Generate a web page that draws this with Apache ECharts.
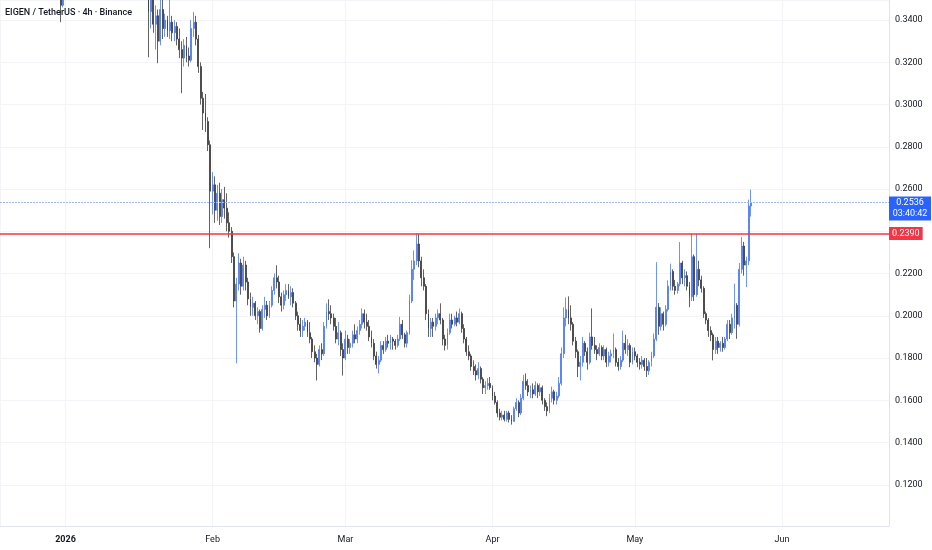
<!DOCTYPE html>
<html><head><meta charset="utf-8">
<script src="https://cdn.jsdelivr.net/npm/echarts/dist/echarts.min.js"></script>
<style>html,body{margin:0;padding:0;background:#fff}#c{width:932px;height:550px}</style>
</head><body><div id="c"></div>
<script>
const chartTitle = 'EIGEN / TetherUS · 4h · Binance';
const monthNames = ['Jan','Feb','Mar','Apr','May','Jun','Jul','Aug','Sep','Oct','Nov','Dec'];
const firstCandleTime = Date.UTC(2025, 11, 18, 0, 0, 0);
const candleStepMs = 12 * 3600 * 1000;
const supportLevel = 0.2390;
const lastPrice = 0.2536;
const countdown = '03:40:42';

// [open, high, low, close]
const candlesDec = [
[0.392,0.398,0.384,0.388],[0.388,0.395,0.381,0.391],[0.391,0.402,0.389,0.399],[0.399,0.404,0.390,0.394],
[0.394,0.397,0.383,0.386],[0.386,0.392,0.380,0.389],[0.389,0.393,0.378,0.381],[0.381,0.387,0.374,0.384],
[0.384,0.396,0.382,0.393],[0.393,0.399,0.386,0.388],[0.388,0.390,0.373,0.376],[0.376,0.381,0.368,0.372],
[0.372,0.379,0.366,0.377],[0.377,0.385,0.374,0.382],[0.382,0.386,0.376,0.379],[0.379,0.384,0.373,0.381],
[0.381,0.389,0.377,0.386],[0.386,0.388,0.372,0.375],[0.375,0.380,0.369,0.378],[0.378,0.383,0.372,0.374],
[0.374,0.377,0.364,0.368],[0.368,0.375,0.362,0.371],[0.371,0.378,0.366,0.373],[0.373,0.376,0.361,0.365],
[0.365,0.372,0.358,0.369],[0.369,0.371,0.355,0.358],[0.358,0.360,0.339,0.347],[0.347,0.372,0.346,0.368]
];
const candlesJan = [
[0.368,0.381,0.365,0.378],[0.378,0.386,0.372,0.383],[0.383,0.397,0.380,0.394],[0.394,0.405,0.390,0.401],
[0.401,0.409,0.395,0.398],[0.398,0.412,0.396,0.408],[0.408,0.418,0.402,0.405],[0.405,0.411,0.398,0.407],
[0.407,0.425,0.405,0.421],[0.421,0.430,0.414,0.418],[0.418,0.427,0.410,0.413],[0.413,0.419,0.404,0.416],
[0.416,0.420,0.401,0.404],[0.404,0.409,0.395,0.399],[0.399,0.406,0.392,0.402],[0.402,0.405,0.389,0.393],
[0.393,0.401,0.388,0.398],[0.398,0.402,0.391,0.395],[0.395,0.399,0.387,0.390],[0.390,0.397,0.386,0.394],
[0.394,0.400,0.389,0.392],[0.392,0.395,0.381,0.385],[0.385,0.392,0.380,0.389],[0.389,0.398,0.386,0.395],
[0.395,0.403,0.390,0.399],[0.399,0.408,0.393,0.396],[0.396,0.399,0.385,0.388],[0.388,0.391,0.377,0.381],
[0.381,0.386,0.374,0.383],[0.383,0.385,0.371,0.375],[0.375,0.381,0.369,0.378],[0.378,0.382,0.368,0.372],
[0.372,0.377,0.363,0.371],[0.371,0.376,0.360,0.366],[0.366,0.372,0.352,0.358],[0.358,0.362,0.3224,0.344],
[0.344,0.356,0.336,0.350],[0.350,0.358,0.334,0.338],[0.338,0.347,0.326,0.342],[0.342,0.345,0.3196,0.330],
[0.330,0.352,0.328,0.345],[0.345,0.354,0.331,0.336],[0.336,0.343,0.332,0.340],[0.340,0.342,0.332,0.335],
[0.335,0.350,0.331,0.339],[0.339,0.342,0.330,0.334],[0.334,0.340,0.330,0.337],[0.337,0.339,0.328,0.331],
[0.331,0.336,0.322,0.326],[0.326,0.330,0.3054,0.322],[0.322,0.331,0.318,0.328],[0.328,0.332,0.320,0.323],
[0.323,0.327,0.318,0.321],[0.321,0.340,0.320,0.336],[0.336,0.3438,0.332,0.339],[0.339,0.342,0.328,0.331],
[0.331,0.333,0.315,0.318],[0.318,0.320,0.300,0.303],[0.303,0.306,0.288,0.296],[0.296,0.305,0.287,0.292],
[0.292,0.294,0.278,0.281],[0.281,0.283,0.232,0.259]
];
const candlesFeb = [
[0.259,0.268,0.248,0.262],[0.262,0.266,0.244,0.250],[0.250,0.262,0.245,0.258],[0.258,0.263,0.243,0.247],
[0.247,0.260,0.244,0.255],[0.255,0.261,0.246,0.251],[0.251,0.258,0.240,0.244],[0.244,0.249,0.237,0.240],
[0.240,0.242,0.225,0.228],[0.228,0.230,0.204,0.207],[0.207,0.218,0.1775,0.215],[0.215,0.2296,0.212,0.225],
[0.225,0.227,0.210,0.214],[0.214,0.228,0.212,0.224],[0.224,0.226,0.212,0.216],[0.216,0.218,0.205,0.208],
[0.208,0.211,0.200,0.204],[0.204,0.209,0.200,0.206],[0.206,0.207,0.198,0.200],[0.200,0.204,0.196,0.202],
[0.202,0.203,0.192,0.194],[0.194,0.205,0.193,0.203],[0.203,0.209,0.199,0.205],[0.205,0.207,0.198,0.200],
[0.200,0.207,0.199,0.205],[0.205,0.214,0.204,0.212],[0.212,0.220,0.210,0.218],[0.218,0.2239,0.213,0.216],
[0.216,0.219,0.206,0.209],[0.209,0.211,0.202,0.205],[0.205,0.212,0.203,0.210],[0.210,0.215,0.207,0.212],
[0.212,0.215,0.208,0.209],[0.209,0.214,0.205,0.211],[0.211,0.213,0.204,0.206],[0.206,0.207,0.198,0.200],
[0.200,0.202,0.193,0.196],[0.196,0.199,0.190,0.193],[0.193,0.198,0.190,0.195],[0.195,0.199,0.193,0.197],
[0.197,0.198,0.190,0.192],[0.192,0.197,0.187,0.189],[0.189,0.190,0.180,0.183],[0.183,0.186,0.178,0.180],
[0.180,0.182,0.1694,0.177],[0.177,0.186,0.176,0.184],[0.184,0.187,0.179,0.182],[0.182,0.197,0.181,0.195],
[0.195,0.2059,0.194,0.202],[0.202,0.2078,0.198,0.201],[0.201,0.205,0.196,0.199],[0.199,0.201,0.193,0.195],
[0.195,0.199,0.187,0.189],[0.189,0.197,0.186,0.192],[0.192,0.193,0.181,0.184],[0.184,0.187,0.1717,0.180]
];
const candlesMar = [
[0.180,0.193,0.179,0.189],[0.189,0.191,0.182,0.185],[0.185,0.189,0.182,0.187],[0.187,0.193,0.185,0.191],
[0.191,0.196,0.187,0.189],[0.189,0.195,0.187,0.193],[0.193,0.198,0.191,0.196],[0.196,0.2035,0.194,0.201],
[0.201,0.203,0.194,0.197],[0.197,0.201,0.193,0.195],[0.195,0.198,0.188,0.190],[0.190,0.193,0.185,0.187],
[0.187,0.189,0.179,0.181],[0.181,0.183,0.175,0.177],[0.177,0.181,0.1727,0.179],[0.179,0.188,0.178,0.186],
[0.186,0.188,0.182,0.184],[0.184,0.190,0.183,0.188],[0.188,0.191,0.185,0.187],[0.187,0.191,0.184,0.189],
[0.189,0.190,0.184,0.188],[0.188,0.189,0.184,0.186],[0.186,0.191,0.185,0.189],[0.189,0.1995,0.188,0.196],
[0.196,0.198,0.189,0.191],[0.191,0.192,0.185,0.187],[0.187,0.193,0.185,0.192],[0.192,0.210,0.191,0.207],
[0.207,0.2263,0.206,0.222],[0.222,0.231,0.217,0.226],[0.226,0.239,0.224,0.234],[0.234,0.2388,0.223,0.226],
[0.226,0.228,0.214,0.218],[0.218,0.222,0.212,0.214],[0.214,0.215,0.198,0.201],[0.201,0.203,0.190,0.194],
[0.194,0.199,0.190,0.197],[0.197,0.199,0.190,0.195],[0.195,0.201,0.193,0.199],[0.199,0.203,0.196,0.201],
[0.201,0.2059,0.196,0.198],[0.198,0.199,0.186,0.189],[0.189,0.191,0.1836,0.186],[0.186,0.194,0.184,0.192],
[0.192,0.201,0.191,0.198],[0.198,0.201,0.194,0.196],[0.196,0.200,0.195,0.199],[0.199,0.202,0.195,0.197],
[0.197,0.2035,0.196,0.201],[0.201,0.202,0.192,0.194],[0.194,0.196,0.187,0.189],[0.189,0.190,0.181,0.183],
[0.183,0.186,0.179,0.181],[0.181,0.182,0.174,0.176],[0.176,0.179,0.172,0.174],[0.174,0.177,0.1694,0.172],
[0.172,0.178,0.170,0.175],[0.175,0.176,0.168,0.170],[0.170,0.171,0.163,0.166],[0.166,0.169,0.163,0.167],
[0.167,0.1705,0.165,0.168]
];
const candlesApr = [
[0.168,0.171,0.165,0.166],[0.166,0.167,0.160,0.162],[0.162,0.164,0.158,0.159],[0.159,0.160,0.152,0.154],
[0.154,0.156,0.1505,0.152],[0.152,0.155,0.1505,0.153],[0.153,0.155,0.150,0.151],[0.151,0.155,0.150,0.154],
[0.154,0.155,0.1495,0.151],[0.151,0.153,0.1485,0.150],[0.150,0.157,0.150,0.156],[0.156,0.161,0.155,0.159],
[0.159,0.160,0.152,0.154],[0.154,0.163,0.153,0.161],[0.161,0.172,0.160,0.169],[0.169,0.1727,0.165,0.167],
[0.167,0.170,0.162,0.164],[0.164,0.167,0.161,0.165],[0.165,0.168,0.161,0.163],[0.163,0.169,0.162,0.167],
[0.167,0.168,0.161,0.164],[0.164,0.168,0.162,0.166],[0.166,0.167,0.158,0.160],[0.160,0.161,0.155,0.157],
[0.157,0.159,0.1525,0.155],[0.155,0.163,0.154,0.161],[0.161,0.1665,0.159,0.164],[0.164,0.165,0.158,0.160],
[0.160,0.164,0.158,0.162],[0.162,0.171,0.161,0.168],[0.168,0.185,0.167,0.182],[0.182,0.204,0.180,0.199],
[0.199,0.2087,0.195,0.203],[0.203,0.2092,0.196,0.199],[0.199,0.205,0.193,0.196],[0.196,0.197,0.186,0.188],
[0.188,0.190,0.180,0.183],[0.183,0.184,0.171,0.176],[0.176,0.181,0.1694,0.178],[0.178,0.190,0.176,0.187],
[0.187,0.188,0.181,0.183],[0.183,0.185,0.1745,0.178],[0.178,0.192,0.177,0.190],[0.190,0.2035,0.184,0.186],
[0.186,0.190,0.182,0.184],[0.184,0.186,0.179,0.182],[0.182,0.187,0.181,0.185],[0.185,0.186,0.179,0.181],
[0.181,0.186,0.179,0.184],[0.184,0.185,0.1757,0.178],[0.178,0.183,0.176,0.181],[0.181,0.184,0.178,0.182],
[0.182,0.1916,0.180,0.184],[0.184,0.185,0.176,0.178],[0.178,0.180,0.174,0.176],[0.176,0.181,0.1745,0.179],
[0.179,0.193,0.178,0.187],[0.187,0.191,0.182,0.184],[0.184,0.189,0.181,0.186],[0.186,0.187,0.1757,0.178]
];
const candlesMay = [
[0.178,0.185,0.177,0.183],[0.183,0.185,0.179,0.181],[0.181,0.182,0.1757,0.178],[0.178,0.180,0.1745,0.177],
[0.177,0.181,0.175,0.179],[0.179,0.180,0.174,0.176],[0.176,0.180,0.171,0.174],[0.174,0.179,0.172,0.178],
[0.178,0.183,0.176,0.181],[0.181,0.1916,0.180,0.189],[0.189,0.2254,0.188,0.204],[0.204,0.206,0.191,0.195],
[0.195,0.204,0.193,0.201],[0.201,0.202,0.193,0.196],[0.196,0.205,0.195,0.203],[0.203,0.2168,0.202,0.214],
[0.214,0.2247,0.212,0.221],[0.221,0.222,0.212,0.214],[0.214,0.217,0.210,0.212],[0.212,0.216,0.2105,0.215],
[0.215,0.2349,0.214,0.225],[0.225,0.226,0.215,0.218],[0.218,0.222,0.214,0.219],[0.219,0.221,0.212,0.214],
[0.214,0.216,0.2041,0.209],[0.209,0.2389,0.207,0.228],[0.228,0.229,0.207,0.210],[0.210,0.2389,0.209,0.222],
[0.222,0.226,0.214,0.217],[0.217,0.219,0.211,0.213],[0.213,0.214,0.199,0.201],[0.201,0.202,0.196,0.198],
[0.198,0.199,0.190,0.193],[0.193,0.195,0.188,0.191],[0.191,0.192,0.1789,0.184],[0.184,0.190,0.182,0.188],
[0.188,0.190,0.182,0.185],[0.185,0.188,0.183,0.187],[0.187,0.190,0.183,0.185],[0.185,0.190,0.184,0.189],
[0.189,0.198,0.188,0.196],[0.196,0.198,0.189,0.192],[0.192,0.201,0.191,0.199],[0.199,0.2152,0.194,0.205],
[0.205,0.206,0.1891,0.196],[0.196,0.225,0.195,0.222],[0.222,0.2373,0.220,0.233],[0.233,0.235,0.219,0.224],
[0.224,0.228,0.2136,0.226],[0.226,0.255,0.224,0.252],[0.252,0.2597,0.247,0.2536]
];

const allCandles = [].concat(candlesDec, candlesJan, candlesFeb, candlesMar, candlesApr, candlesMay);
const seriesData = allCandles.map((c, i) => [firstCandleTime + i * candleStepMs, c[0], c[3], c[2], c[1]]);

const jan1 = Date.UTC(2026, 0, 1);
const dayMs = 86400000;
const xMin = jan1 - 13.8 * dayMs;
const xMax = jan1 + 173.55 * dayMs;

const chart = echarts.init(document.getElementById('c'), null, {renderer: 'canvas'});
chart.setOption({
  animation: false,
  useUTC: true,
  backgroundColor: '#ffffff',
  textStyle: {fontFamily: 'Roboto'},
  title: {
    text: chartTitle, left: 5, top: 8, padding: 0,
    textStyle: {fontSize: 9, fontWeight: 500, color: '#131722', fontFamily: 'Roboto'}
  },
  grid: {left: 0, right: 43, top: 0, bottom: 24, containLabel: false},
  xAxis: {
    type: 'time', min: xMin, max: xMax, splitNumber: 6, minInterval: 27 * dayMs,
    axisLine: {show: true, lineStyle: {color: '#e0e3eb', width: 1}},
    axisTick: {show: false},
    axisLabel: {
      color: '#131722', fontSize: 9, margin: 9, showMinLabel: false, showMaxLabel: false,
      formatter: function (v) {
        const d = new Date(v); const m = d.getUTCMonth();
        return m === 0 ? '{y|' + d.getUTCFullYear() + '}' : monthNames[m];
      },
      rich: {y: {fontWeight: 'bold', fontSize: 9, color: '#131722'}}
    },
    splitLine: {show: true, lineStyle: {color: '#f3f4f7', width: 1}}
  },
  yAxis: {
    type: 'value', position: 'right', min: 0.1005, max: 0.3495, splitNumber: 12, scale: true,
    axisLine: {show: true, lineStyle: {color: '#e0e3eb', width: 1}},
    axisTick: {show: false},
    axisLabel: {
      color: '#131722', fontSize: 9, margin: 6, showMinLabel: false, showMaxLabel: false,
      formatter: v => v.toFixed(4)
    },
    splitLine: {show: true, lineStyle: {color: '#f3f4f7', width: 1}}
  },
  series: [{
    type: 'candlestick',
    data: seriesData,
    encode: {x: 0, y: [1, 2, 3, 4]},
    barWidth: 1.4,
    clip: true,
    itemStyle: {
      color: '#4a78f2', color0: '#3a3a3a',
      borderColor: '#4a78f2', borderColor0: '#3a3a3a', borderWidth: 0.8
    },
    markLine: {
      silent: true, symbol: ['none', 'none'], animation: false, precision: 4,
      data: [
        {yAxis: supportLevel, lineStyle: {color: '#f23645', width: 1.6, type: 'solid'},
         label: {show: true, position: 'end', distance: 0, formatter: supportLevel.toFixed(4),
                 color: '#ffffff', backgroundColor: '#f23645', padding: [2, 3, 1, 3], fontSize: 9, lineHeight: 10}},
        {yAxis: lastPrice, lineStyle: {color: '#9fb9f8', width: 1, type: [2, 1]},
         label: {show: false}}
      ]
    },
    markPoint: {
      silent: true, animation: false,
      data: [{
        coord: [xMax, lastPrice], symbol: 'rect', symbolSize: [42, 24], symbolOffset: [21, 6],
        itemStyle: {color: '#2962ff'},
        label: {show: true, position: 'inside', formatter: lastPrice.toFixed(4) + '\n' + countdown,
                color: '#ffffff', fontSize: 9, lineHeight: 11}
      }]
    }
  }]
});
</script>
</body></html>
